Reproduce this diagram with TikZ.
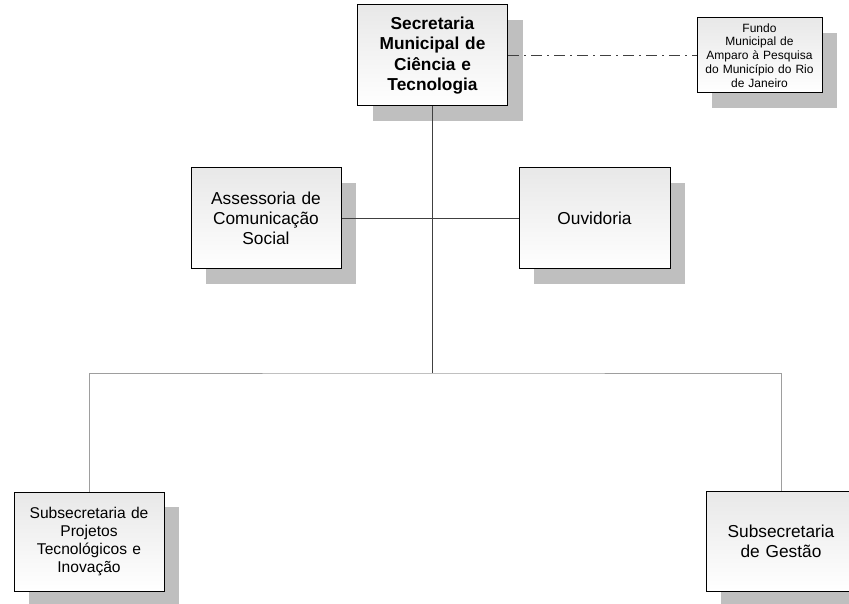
\documentclass[tikz,border=0pt]{standalone}
\usepackage{fontspec}
\setmainfont{Liberation Sans}
\usetikzlibrary{shadows}
\begin{document}
\begin{tikzpicture}[x=1pt,y=-1pt,
  orgbox/.style={draw=black, line width=1pt, top color=gray!18, bottom color=white,
    align=center, inner sep=2pt,
    general shadow={fill=gray!50, shadow xshift=15pt, shadow yshift=-15pt}},
  mainline/.style={draw=black!75, line width=0.8pt},
  busline/.style={draw=black!38, line width=0.8pt},
  dashdot/.style={draw=black!75, line width=0.8pt, dash pattern=on 11pt off 5pt on 2pt off 5pt}]
\useasboundingbox (0,0) rectangle (849,604);
\clip (0,0) rectangle (849,604);
\node[orgbox, minimum width=150pt, minimum height=101pt, text width=144pt,
  font=\fontsize{17.3}{20.3}\selectfont\bfseries] (sec) at (432.5,55.5)
  {Secretaria\\Municipal de\\Ciência e\\Tecnologia};
\node[orgbox, minimum width=125pt, minimum height=75pt, text width=120pt,
  font=\fontsize{12}{13.8}\selectfont] (fundo) at (759.5,55.5)
  {Fundo\\Municipal de\\Amparo à Pesquisa\\do Município do Rio\\de Janeiro};
\node[orgbox, minimum width=150pt, minimum height=101pt, text width=144pt,
  font=\fontsize{17.3}{20.3}\selectfont] (ass) at (266,218.5)
  {Assessoria de\\Comunicação\\Social};
\node[orgbox, minimum width=151pt, minimum height=101pt, text width=144pt,
  font=\fontsize{17.3}{20.3}\selectfont] (ouv) at (594.5,218.5)
  {Ouvidoria};
\node[orgbox, minimum width=150pt, minimum height=99pt, text width=144pt,
  font=\fontsize{15.6}{18.3}\selectfont] (subL) at (89,541.5)
  {Subsecretaria de\\Projetos\\Tecnológicos e\\Inovação};
\node[orgbox, minimum width=150pt, minimum height=100pt, text width=144pt,
  font=\fontsize{17.3}{20.3}\selectfont] (subR) at (781,541)
  {Subsecretaria\\de Gestão};
\coordinate (busM) at (432,373);
\draw[mainline] (sec.south -| busM) -- (busM);
\draw[mainline] (ass.east) -- (ouv.west);
\draw[busline] (subL.north) |- (busM) -| (subR.north);
\draw[dashdot] (sec.east) -- (fundo.west);
\end{tikzpicture}
\end{document}
